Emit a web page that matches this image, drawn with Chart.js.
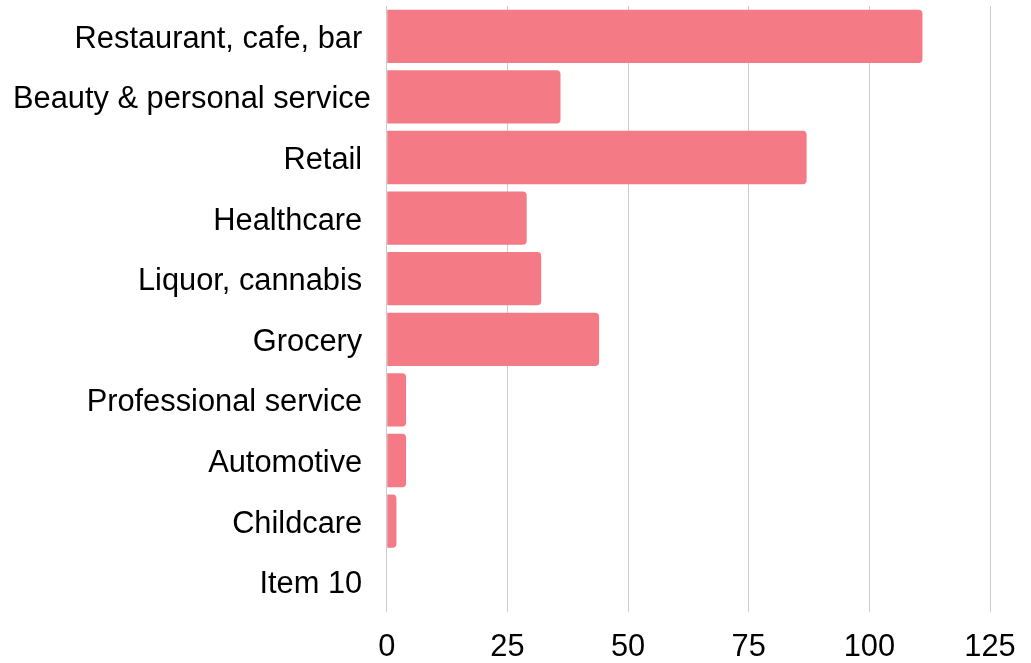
<!DOCTYPE html>
<html lang="en">

<head>
    <meta charset="UTF-8">
    <title>Businesses by Category</title>
    <script src="https://cdn.jsdelivr.net/npm/chart.js"></script>
    <style>
        body {
            margin: 0;
            padding: 0;
            background-color: #ffffff;
        }

        .chart-container {
            position: relative;
            width: 1031px;
            height: 663px;
        }
    </style>
</head>

<body>
    <div class="chart-container">
        <canvas id="categoryChart"></canvas>
    </div>

    <script>
        const categories = [
            'Restaurant, cafe, bar ',
            'Beauty & personal service',
            'Retail ',
            'Healthcare ',
            'Liquor, cannabis ',
            'Grocery ',
            'Professional service ',
            'Automotive ',
            'Childcare ',
            'Item 10 '
        ];
        const counts = [111, 36, 87, 29, 32, 44, 4, 4, 2, 0];
        const xTicks = [0, 25, 50, 75, 100, 125];

        const ctx = document.getElementById('categoryChart').getContext('2d');
        new Chart(ctx, {
            type: 'bar',
            data: {
                labels: categories,
                datasets: [{
                    data: counts,
                    backgroundColor: '#F47A85',
                    borderRadius: 4,
                    borderSkipped: 'start',
                    barPercentage: 0.88,
                    categoryPercentage: 1.0
                }]
            },
            options: {
                indexAxis: 'y',
                responsive: true,
                maintainAspectRatio: false,
                animation: false,
                layout: { padding: { left: 13, right: 0, top: 6, bottom: 0 } },
                plugins: {
                    legend: { display: false },
                    tooltip: { enabled: false }
                },
                scales: {
                    x: {
                        min: 0,
                        max: 125,
                        afterBuildTicks: axis => {
                            axis.ticks = xTicks.map(v => ({ value: v }));
                        },
                        // chart.js reserves the tick padding twice; keep the axis band tight
                        afterFit: axis => {
                            axis.height = 51;
                            axis.paddingRight = 41;
                        },
                        grid: { color: '#cccccc', drawTicks: false },
                        border: { display: false },
                        ticks: {
                            padding: 17,
                            color: '#000000',
                            font: { family: 'Liberation Sans', size: 30.8 }
                        }
                    },
                    y: {
                        // labels sit in the band centres, no extra room needed above/below
                        afterFit: axis => {
                            axis.paddingTop = 0;
                            axis.paddingBottom = 0;
                            axis.width -= 16;
                        },
                        grid: { display: false, drawTicks: false },
                        border: { display: false },
                        ticks: {
                            padding: 16,
                            labelOffset: 3,
                            color: '#000000',
                            font: { family: 'Liberation Sans', size: 30.8 }
                        }
                    }
                }
            }
        });
    </script>
</body>

</html>
